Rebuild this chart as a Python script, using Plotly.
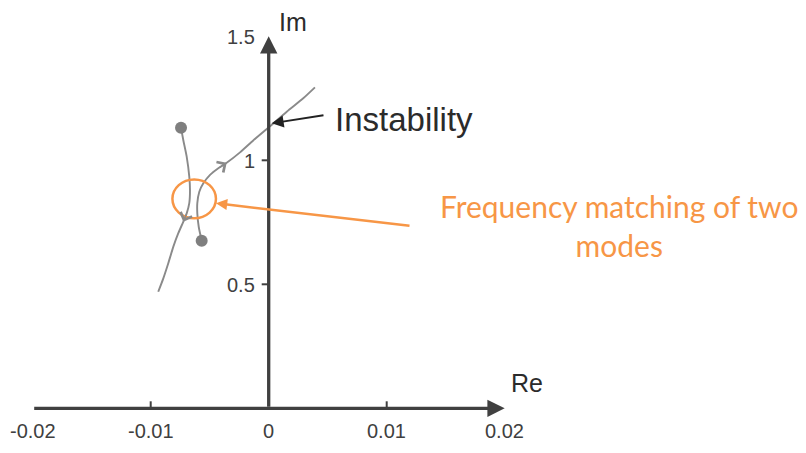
import plotly.graph_objects as go

# ---- data ----
mode_a_re = [-0.00743, -0.00724, -0.00695, -0.00673, -0.00667, -0.00673, -0.00695,
             -0.00724, -0.00766, -0.00808, -0.00851, -0.00893, -0.00936]
mode_a_im = [1.131, 1.082, 1.015, 0.934, 0.880, 0.827, 0.786,
             0.752, 0.706, 0.652, 0.585, 0.524, 0.470]
mode_b_re = [-0.00568, -0.00593, -0.00605, -0.00605, -0.00588, -0.00554, -0.00497,
             -0.00427, -0.00356, -0.00243, -0.00131, 0.00011, 0.00153, 0.00293, 0.00392]
mode_b_im = [0.676, 0.732, 0.786, 0.827, 0.873, 0.907, 0.941,
             0.968, 0.990, 1.032, 1.080, 1.137, 1.196, 1.250, 1.294]

x_tick_vals = [-0.02, -0.01, 0, 0.01, 0.02]
x_tick_text = ["-0.02", "-0.01", "0", "0.01", "0.02"]
x_tick_marks = [-0.01, 0.01]
y_tick_vals = [0.5, 1, 1.5]
y_tick_text = ["0.5", "1", "1.5"]
y_tick_marks = [0.5, 1]

x_axis_span = [-0.02, 0.02]
y_axis_span = [0, 1.5]

chevron_a_idx = 7
chevron_b_idx = 8

# matching region (ellipse) and annotation anchors
match_box = dict(x0=-0.00816, x1=-0.00447, y0=0.766, y1=0.923)
match_tip = (-0.00447, 0.827)
match_tail = (0.01206, 0.735)
match_text_pos = (0.02969, 0.737)
instab_tip = (0.00025, 1.149)
instab_tail = (0.00477, 1.183)
instab_text_pos = (0.00545, 1.166)
re_label_pos = (0.02189, 0.102)
im_label_pos = (0.00206, 1.556)

# ---- styles ----
AXIS = "#404040"
CURVE = "#8a8a8a"
DOT = "#7f7f7f"
ORANGE = "#f79646"
TXT = "#2b2b2b"
SANS = "Arial, Liberation Sans, sans-serif"

fig = go.Figure()

fig.add_trace(go.Scatter(x=mode_a_re, y=mode_a_im, mode="lines",
                         line=dict(color=CURVE, width=1.9, shape="spline", smoothing=0.6),
                         hoverinfo="skip", showlegend=False))
fig.add_trace(go.Scatter(x=mode_b_re, y=mode_b_im, mode="lines",
                         line=dict(color=CURVE, width=1.9, shape="spline", smoothing=0.6),
                         hoverinfo="skip", showlegend=False))
fig.add_trace(go.Scatter(x=[mode_a_re[0], mode_b_re[0]], y=[mode_a_im[0], mode_b_im[0]],
                         mode="markers", marker=dict(color=DOT, size=12),
                         hoverinfo="skip", showlegend=False))

ann = []
# axes with arrowheads
ann.append(dict(x=x_axis_span[1], y=0, ax=x_axis_span[0], ay=0, xref="x", yref="y",
                axref="x", ayref="y", showarrow=True, arrowhead=2, arrowsize=1.05,
                arrowwidth=3.3, arrowcolor=AXIS, standoff=0, text=""))
ann.append(dict(x=0, y=y_axis_span[1], ax=0, ay=y_axis_span[0], xref="x", yref="y",
                axref="x", ayref="y", showarrow=True, arrowhead=2, arrowsize=1.05,
                arrowwidth=3.3, arrowcolor=AXIS, standoff=0, text=""))

# tick labels
for v, t in zip(x_tick_vals, x_tick_text):
    ann.append(dict(x=v, y=0, xref="x", yref="y", text=t, showarrow=False,
                    xanchor="center", yanchor="middle", yshift=-23,
                    font=dict(family=SANS, size=20, color=AXIS)))
for v, t in zip(y_tick_vals, y_tick_text):
    ann.append(dict(x=0, y=v, xref="x", yref="y", text=t, showarrow=False,
                    xanchor="right", yanchor="middle", xshift=-12, yshift=-1,
                    font=dict(family=SANS, size=20, color=AXIS)))

# axis titles
ann.append(dict(x=re_label_pos[0], y=re_label_pos[1], text="Re", showarrow=False,
                xanchor="center", yanchor="middle",
                font=dict(family=SANS, size=25, color=TXT)))
ann.append(dict(x=im_label_pos[0], y=im_label_pos[1], text="Im", showarrow=False,
                xanchor="center", yanchor="middle",
                font=dict(family=SANS, size=25, color=TXT)))

# direction chevrons along curves
for xs, ys, i in [(mode_a_re, mode_a_im, chevron_a_idx), (mode_b_re, mode_b_im, chevron_b_idx)]:
    ann.append(dict(x=xs[i], y=ys[i], ax=xs[i - 1], ay=ys[i - 1], xref="x", yref="y",
                    axref="x", ayref="y", showarrow=True, arrowhead=4, arrowsize=1.6,
                    arrowwidth=1.5, arrowcolor=CURVE, standoff=0, text=""))

# instability pointer
ann.append(dict(x=instab_tip[0], y=instab_tip[1], ax=instab_tail[0], ay=instab_tail[1],
                xref="x", yref="y", axref="x", ayref="y", showarrow=True, arrowhead=2,
                arrowsize=1.2, arrowwidth=2, arrowcolor="#222222", standoff=0, text=""))
ann.append(dict(x=instab_text_pos[0], y=instab_text_pos[1], text="Instability",
                showarrow=False, xanchor="left", yanchor="middle",
                font=dict(family=SANS, size=33, color=TXT)))

# frequency matching pointer
ann.append(dict(x=match_tip[0], y=match_tip[1], ax=match_tail[0], ay=match_tail[1],
                xref="x", yref="y", axref="x", ayref="y", showarrow=True, arrowhead=2,
                arrowsize=0.9, arrowwidth=2.5, arrowcolor=ORANGE, standoff=0, text=""))
ann.append(dict(x=match_text_pos[0], y=match_text_pos[1],
                text="Frequency matching of two<br>modes", showarrow=False,
                xanchor="center", yanchor="middle", align="center",
                font=dict(family="Lato, Noto Sans, sans-serif", size=30, color=ORANGE)))

shapes = []
for v in x_tick_marks:
    shapes.append(dict(type="line", xref="x", yref="y", ysizemode="pixel", yanchor=0,
                       x0=v, x1=v, y0=0, y1=7, line=dict(color=AXIS, width=2)))
for v in y_tick_marks:
    shapes.append(dict(type="line", xref="x", yref="y", xsizemode="pixel", xanchor=0,
                       x0=-7, x1=0, y0=v, y1=v, line=dict(color=AXIS, width=2)))
shapes.append(dict(type="circle", xref="x", yref="y", **match_box,
                   line=dict(color=ORANGE, width=2.5)))

fig.update_layout(
    width=806, height=453,
    margin=dict(l=0, r=0, t=0, b=0),
    paper_bgcolor="white", plot_bgcolor="white",
    xaxis=dict(range=[-0.022771, 0.045534], visible=False, fixedrange=True),
    yaxis=dict(range=[-0.18024, 1.64637], visible=False, fixedrange=True),
    annotations=ann, shapes=shapes, showlegend=False,
)

fig.write_html("out.html")
